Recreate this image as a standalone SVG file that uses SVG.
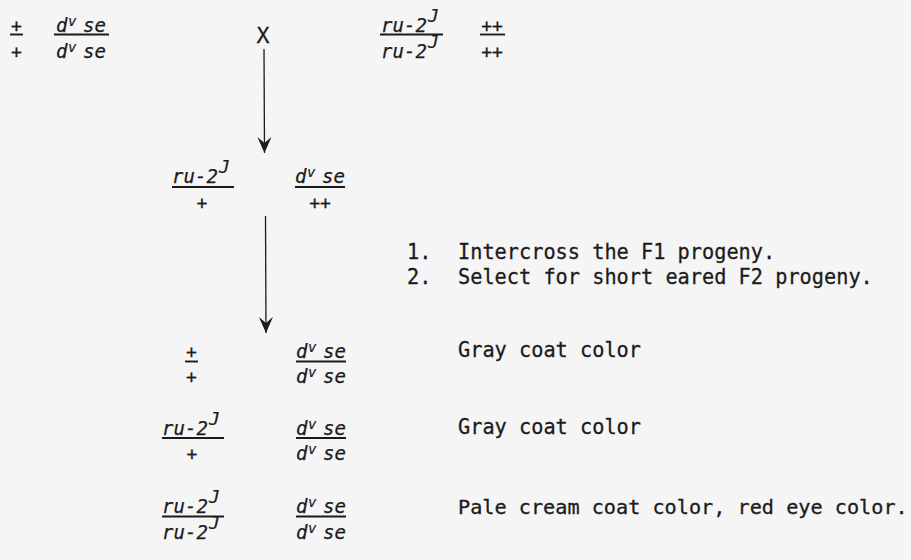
<svg xmlns="http://www.w3.org/2000/svg" width="911" height="560" viewBox="0 0 911 560">
<style>
.g{font-family:"DejaVu Sans Mono","Liberation Mono",monospace;font-style:italic;font-size:19px;letter-spacing:0.1px;fill:#1b1b1b;stroke:#1b1b1b;stroke-width:0.25}
.sv{font-family:"DejaVu Sans Mono","Liberation Mono",monospace;font-style:italic;font-size:14px;fill:#1b1b1b;stroke:#1b1b1b;stroke-width:0.2}
.sj{font-family:"DejaVu Sans Mono","Liberation Mono",monospace;font-style:italic;font-size:18px;fill:#1b1b1b;stroke:#1b1b1b;stroke-width:0.2}
.p{font-family:"DejaVu Sans Mono","Liberation Mono",monospace;font-size:18px;fill:#1b1b1b;text-anchor:middle;stroke:#1b1b1b;stroke-width:0.3}
.t{font-family:"DejaVu Sans Mono","Liberation Mono",monospace;font-size:21.5px;fill:#1b1b1b;stroke:#1b1b1b;stroke-width:0.3}
.t2{font-family:"DejaVu Sans Mono","Liberation Mono",monospace;font-size:20.2px;fill:#1b1b1b;stroke:#1b1b1b;stroke-width:0.3}
.bar{stroke:#1b1b1b;stroke-width:1.9}
.conn{stroke:#1b1b1b;stroke-width:1.3;fill:none}
</style>
<defs>
<marker id="ah" markerUnits="userSpaceOnUse" markerWidth="16" markerHeight="16" refX="16" refY="8" orient="auto" viewBox="0 0 16 16">
<path d="M16,8 L0,1 L6,8 L0,15 Z" fill="#1b1b1b"/>
</marker>
</defs>
<rect width="911" height="560" fill="#f5f5f5"/>

<g id="connectors">
<line class="conn" x1="264" y1="49" x2="264.5" y2="153" marker-end="url(#ah)"/>
<line class="conn" x1="265.5" y1="216" x2="266" y2="333" marker-end="url(#ah)"/>
</g>

<g id="parent1">
<text class="p" x="16.5" y="32">+</text>
<line class="bar" x1="10" y1="34.5" x2="23" y2="34.5"/>
<text class="p" x="16.5" y="58">+</text>
<text class="g" x="56" y="32">d</text><text class="sv" x="68" y="26">v</text><text class="g" x="83" y="32">se</text>
<line class="bar" x1="54" y1="34.5" x2="109" y2="34.5"/>
<text class="g" x="56" y="58">d</text><text class="sv" x="68" y="52">v</text><text class="g" x="83" y="58">se</text>
</g>

<g id="cross">
<text class="t" x="263" y="43" text-anchor="middle">X</text>
</g>

<g id="parent2">
<text class="g" x="381" y="32">ru-2</text><text class="sj" x="428" y="22">J</text>
<line class="bar" x1="380" y1="34.5" x2="443" y2="34.5"/>
<text class="g" x="381" y="58">ru-2</text><text class="sj" x="428" y="48">J</text>
<text class="p" x="492" y="32">++</text>
<line class="bar" x1="480" y1="34.5" x2="505" y2="34.5"/>
<text class="p" x="492" y="58">++</text>
</g>

<g id="f1">
<text class="g" x="172" y="183">ru-2</text><text class="sj" x="219" y="173">J</text>
<line class="bar" x1="172" y1="187" x2="234" y2="187"/>
<text class="p" x="202" y="209">+</text>
<text class="g" x="295" y="183">d</text><text class="sv" x="307" y="177">v</text><text class="g" x="322" y="183">se</text>
<line class="bar" x1="295" y1="187" x2="345" y2="187"/>
<text class="p" x="320" y="209">++</text>
</g>

<g id="steps">
<text class="t" x="407" y="259" textLength="24.4" lengthAdjust="spacingAndGlyphs">1.</text>
<text class="t" x="458" y="259" textLength="317.2" lengthAdjust="spacingAndGlyphs">Intercross the F1 progeny.</text>
<text class="t" x="407" y="284" textLength="24.4" lengthAdjust="spacingAndGlyphs">2.</text>
<text class="t" x="458" y="284" textLength="414.8" lengthAdjust="spacingAndGlyphs">Select for short eared F2 progeny.</text>
</g>

<g id="f2-row1">
<text class="p" x="191.5" y="358">+</text>
<line class="bar" x1="185" y1="361.5" x2="198" y2="361.5"/>
<text class="p" x="191.5" y="383">+</text>
<text class="g" x="296" y="358">d</text><text class="sv" x="308" y="352">v</text><text class="g" x="323" y="358">se</text>
<line class="bar" x1="296" y1="361.5" x2="346" y2="361.5"/>
<text class="g" x="296" y="383">d</text><text class="sv" x="308" y="377">v</text><text class="g" x="323" y="383">se</text>
<text class="t" x="458" y="357" textLength="183" lengthAdjust="spacingAndGlyphs">Gray coat color</text>
</g>

<g id="f2-row2">
<text class="g" x="162" y="435">ru-2</text><text class="sj" x="209" y="425">J</text>
<line class="bar" x1="162" y1="438" x2="224" y2="438"/>
<text class="p" x="192" y="460">+</text>
<text class="g" x="296" y="435">d</text><text class="sv" x="308" y="429">v</text><text class="g" x="323" y="435">se</text>
<line class="bar" x1="296" y1="438" x2="346" y2="438"/>
<text class="g" x="296" y="460">d</text><text class="sv" x="308" y="454">v</text><text class="g" x="323" y="460">se</text>
<text class="t" x="458" y="434" textLength="183" lengthAdjust="spacingAndGlyphs">Gray coat color</text>
</g>

<g id="f2-row3">
<text class="g" x="162" y="513">ru-2</text><text class="sj" x="209" y="503">J</text>
<line class="bar" x1="162" y1="516.5" x2="224" y2="516.5"/>
<text class="g" x="162" y="539">ru-2</text><text class="sj" x="209" y="529">J</text>
<text class="g" x="296" y="513">d</text><text class="sv" x="308" y="507">v</text><text class="g" x="323" y="513">se</text>
<line class="bar" x1="296" y1="516.5" x2="346" y2="516.5"/>
<text class="g" x="296" y="539">d</text><text class="sv" x="308" y="533">v</text><text class="g" x="323" y="539">se</text>
<text class="t2" x="458" y="514">Pale cream coat color, red eye color.</text>
</g>
</svg>
